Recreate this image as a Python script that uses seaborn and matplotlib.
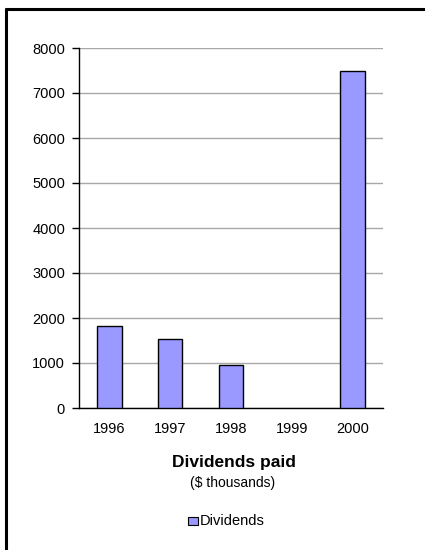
import matplotlib
matplotlib.use("Agg")
import matplotlib.pyplot as plt
from matplotlib.lines import Line2D
from matplotlib.patches import Rectangle
import seaborn as sns
import pandas as pd

years = ["1996", "1997", "1998", "1999", "2000"]
dividends = [1820, 1530, 950, 0, 7500]
y_ticks = [0, 1000, 2000, 3000, 4000, 5000, 6000, 7000, 8000]

sns.set_theme(style="white")
plt.rcParams["font.family"] = ["Liberation Sans", "DejaVu Sans"]
plt.rcParams["text.color"] = "black"
plt.rcParams["xtick.color"] = "black"
plt.rcParams["ytick.color"] = "black"

df = pd.DataFrame({"Year": years, "Dividends": dividends})

fig = plt.figure(figsize=(4.25, 5.5), dpi=100)
ax = fig.add_axes([79 / 425, 1 - 408 / 550, (383 - 79) / 425, (408 - 48) / 550])

sns.barplot(data=df, x="Year", y="Dividends", color="#9999FF", edgecolor="black",
            linewidth=1.0, width=0.4, saturation=1, ax=ax, zorder=3)
# a zero-height bar leaves no visible outline
for patch, val in zip(ax.patches, dividends):
    if val == 0:
        patch.set_linewidth(0)

ax.set_xlim(-0.5, len(years) - 0.5)
ax.set_ylim(0, 8000)
ax.set_yticks(y_ticks)
ax.set_yticklabels([str(t) for t in y_ticks], fontsize=10.5, color="black")
ax.yaxis.grid(True, color="#A8A8A8", linewidth=1.0, zorder=0)
ax.set_axisbelow(True)

ax.set_xticks(range(len(years)))
ax.set_xticklabels(years, fontsize=10.5, color="black")
ax.set_xticks([i - 0.5 for i in range(len(years) + 1)], minor=True)
ax.tick_params(axis="x", which="major", length=0, pad=10)
ax.tick_params(axis="x", which="minor", direction="inout", length=9, width=1, color="black")
ax.tick_params(axis="y", which="major", direction="out", length=5, width=1, color="black",
               left=True, pad=5)

for side in ["top", "right"]:
    ax.spines[side].set_visible(False)
for side in ["left", "bottom"]:
    ax.spines[side].set_color("black")
    ax.spines[side].set_linewidth(1.0)
ax.set_xlabel("")
ax.set_ylabel("")

fig.text(234 / 425, 1 - 462.5 / 550, "Dividends paid", ha="center", va="center",
         fontsize=12.5, fontweight="bold", color="black")
fig.text(233 / 425, 1 - 483 / 550, "($ thousands)", ha="center", va="center",
         fontsize=10, color="black")

# legend entry
fig.patches.append(Rectangle((188 / 425, 1 - 525 / 550), 10 / 425, 8 / 550,
                             transform=fig.transFigure, facecolor="#9999FF",
                             edgecolor="black", linewidth=0.8))
fig.text(200 / 425, 1 - 521 / 550, "Dividends", ha="left", va="center",
         fontsize=10.5, color="black")

# frame on top and left edges
fig.add_artist(Line2D([6 / 425, 6 / 425], [0, 1 - 8 / 550], color="black", linewidth=2.2,
                      solid_capstyle="butt", transform=fig.transFigure))
fig.add_artist(Line2D([5 / 425, 1], [1 - 9 / 550, 1 - 9 / 550], color="black", linewidth=2.2,
                      solid_capstyle="butt", transform=fig.transFigure))

fig.savefig("out.png", dpi=100, facecolor="white")
